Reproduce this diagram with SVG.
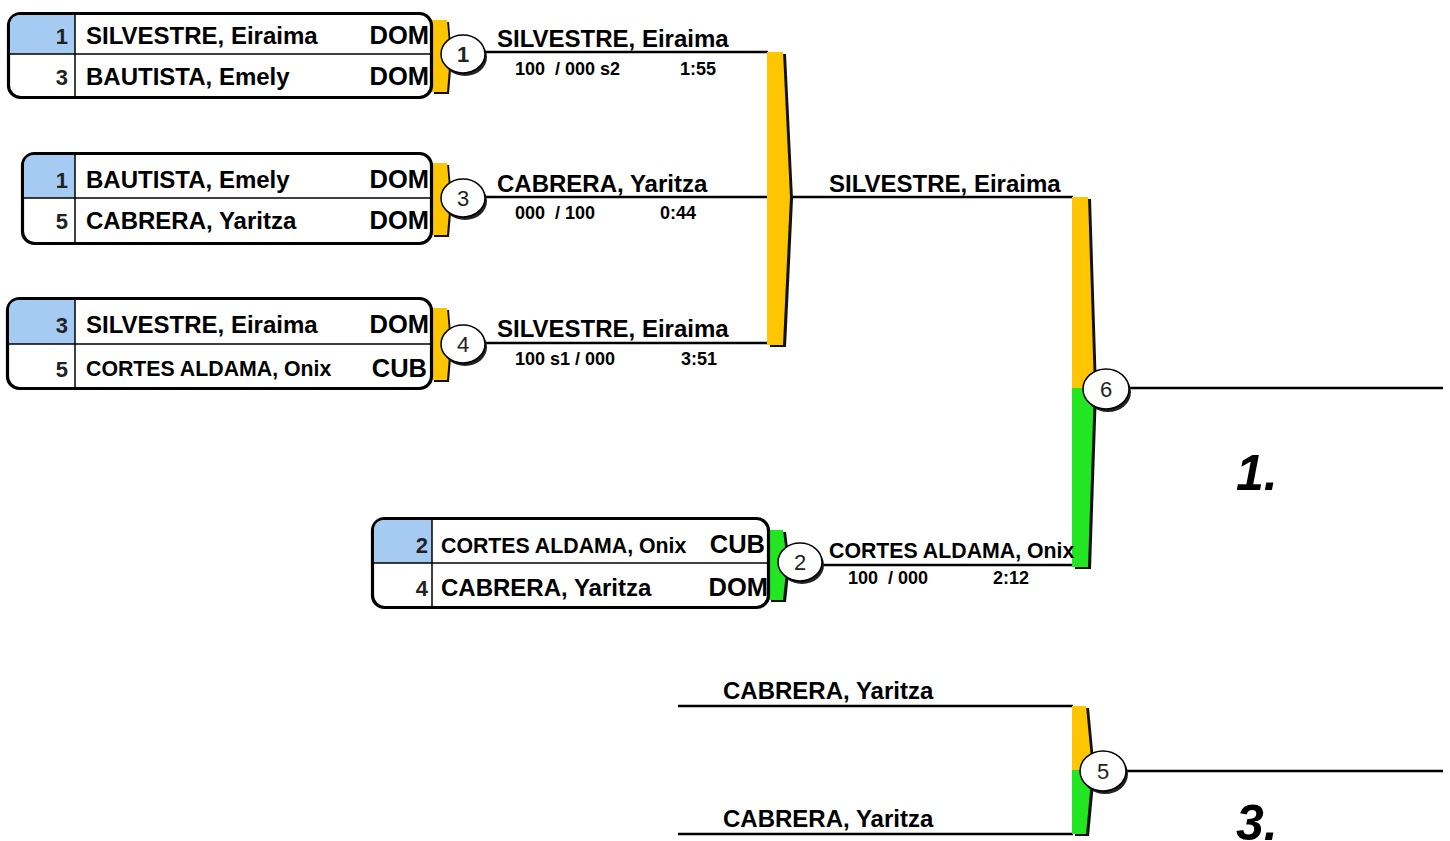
<svg xmlns="http://www.w3.org/2000/svg" width="1450" height="841" viewBox="0 0 1450 841">
<style>
.box{fill:#fff;stroke:#000;stroke-width:3.2}
.blue{fill:#a5cbf2}
.div{stroke:#000;stroke-width:1.5;fill:none}
.nm{font-family:"Liberation Sans",Arial,sans-serif;font-weight:bold;font-size:24px;fill:#000}
.nms{font-family:"Liberation Sans",Arial,sans-serif;font-weight:bold;font-size:21.3px;fill:#000}
.ct{font-family:"Liberation Sans",Arial,sans-serif;font-weight:bold;font-size:25.5px;fill:#000;text-anchor:end}
.sd{font-family:"Liberation Sans",Arial,sans-serif;font-weight:bold;font-size:22px;fill:#222;text-anchor:end}
.sc{font-family:"Liberation Sans",Arial,sans-serif;font-weight:bold;font-size:18px;fill:#000}
.cn{font-family:"Liberation Sans",Arial,sans-serif;font-size:22px;fill:#222;text-anchor:middle}
.rk{font-family:"Liberation Sans",Arial,sans-serif;font-weight:bold;font-style:italic;font-size:50px;fill:#000}
.ln{stroke:#000;stroke-width:2.5;fill:none}
.y{fill:#ffc600}
.g{fill:#22e622}
.sh{fill:#111}
.cw{fill:#fff;stroke:#000;stroke-width:1.5}
.cs{fill:#222}
</style>

<g id="connectors">
  <line class="ln" x1="485" y1="52" x2="768" y2="52"/>
  <line class="ln" x1="485" y1="197" x2="768" y2="197"/>
  <line class="ln" x1="485" y1="343" x2="768" y2="343"/>
  <line class="ln" x1="788" y1="197" x2="1073" y2="197"/>
  <line class="ln" x1="822" y1="565" x2="1073" y2="565"/>
  <line class="ln" x1="1128" y1="388" x2="1443" y2="388"/>
  <line class="ln" x1="678" y1="706" x2="1073" y2="706"/>
  <line class="ln" x1="678" y1="834" x2="1073" y2="834"/>
  <line class="ln" x1="1125" y1="771" x2="1443" y2="771"/>
  <polygon class="sh" points="770,54 786,54 793,199 786,347 770,347"/>
  <polygon class="y" points="767,52 783,52 790,197 783,345 767,345"/>
  <polygon class="sh" points="1075,199 1091,199 1097,390 1091,569 1075,569"/>
  <polygon class="y" points="1072,197 1088,197 1094,388 1072,388"/>
  <polygon class="g" points="1072,388 1094,388 1088,567 1072,567"/>
  <polygon class="sh" points="1075,708 1089,708 1095,772 1089,836 1075,836"/>
  <polygon class="y" points="1072,706 1086,706 1092,770 1072,770"/>
  <polygon class="g" points="1072,770 1092,770 1086,834 1072,834"/>
</g>

<g id="pool1">
  <polygon class="sh" points="434,22 449,22 452,58 449,94 434,94"/>
  <polygon class="y" points="432,20 447,20 450,56 447,92 432,92"/>
  <rect class="box" x="8.5" y="13.5" width="423" height="84" rx="12"/>
  <path class="blue" d="M75,15 L21,15 Q10,15 10,26 L10,54 L75,54 Z"/>
  <line class="div" x1="9" y1="54" x2="431" y2="54"/>
  <line class="div" x1="75" y1="14" x2="75" y2="97"/>
  <text class="sd" x="68" y="44">1</text>
  <text class="nm" x="86" y="44">SILVESTRE, Eiraima</text>
  <text class="ct" x="429" y="44">DOM</text>
  <text class="sd" x="68" y="85">3</text>
  <text class="nm" x="86" y="85">BAUTISTA, Emely</text>
  <text class="ct" x="429" y="85">DOM</text>
</g>

<g id="pool2">
  <polygon class="sh" points="434,165 449,165 452,201 449,237 434,237"/>
  <polygon class="y" points="432,163 447,163 450,199 447,235 432,235"/>
  <rect class="box" x="22.5" y="153.5" width="409" height="90" rx="12"/>
  <path class="blue" d="M75,155 L35,155 Q24,155 24,166 L24,198 L75,198 Z"/>
  <line class="div" x1="23" y1="198" x2="431" y2="198"/>
  <line class="div" x1="75" y1="154" x2="75" y2="243"/>
  <text class="sd" x="68" y="188">1</text>
  <text class="nm" x="86" y="188">BAUTISTA, Emely</text>
  <text class="ct" x="429" y="188">DOM</text>
  <text class="sd" x="68" y="229">5</text>
  <text class="nm" x="86" y="229">CABRERA, Yaritza</text>
  <text class="ct" x="429" y="229">DOM</text>
</g>

<g id="pool3">
  <polygon class="sh" points="434,310 449,310 452,346 449,382 434,382"/>
  <polygon class="y" points="432,308 447,308 450,344 447,380 432,380"/>
  <rect class="box" x="7.5" y="298.5" width="424" height="90" rx="12"/>
  <path class="blue" d="M75,300 L20,300 Q9,300 9,311 L9,344 L75,344 Z"/>
  <line class="div" x1="8" y1="344" x2="431" y2="344"/>
  <line class="div" x1="75" y1="299" x2="75" y2="388"/>
  <text class="sd" x="68" y="333">3</text>
  <text class="nm" x="86" y="333">SILVESTRE, Eiraima</text>
  <text class="ct" x="429" y="333">DOM</text>
  <text class="sd" x="68" y="377">5</text>
  <text class="nms" x="86" y="376">CORTES ALDAMA, Onix</text>
  <text class="ct" x="427" y="377">CUB</text>
</g>

<g id="pool4">
  <polygon class="sh" points="771,532 786,532 790,564 786,602 771,602"/>
  <polygon class="g" points="768,530 783,530 787,562 783,600 768,600"/>
  <rect class="box" x="372.5" y="518.5" width="396" height="89" rx="12"/>
  <path class="blue" d="M432,520 L385,520 Q374,520 374,531 L374,563 L432,563 Z"/>
  <line class="div" x1="373" y1="563" x2="768" y2="563"/>
  <line class="div" x1="432" y1="519" x2="432" y2="607"/>
  <text class="sd" x="428" y="553">2</text>
  <text class="nms" x="441" y="553">CORTES ALDAMA, Onix</text>
  <text class="ct" x="765" y="553">CUB</text>
  <text class="sd" x="428" y="596">4</text>
  <text class="nm" x="441" y="596">CABRERA, Yaritza</text>
  <text class="ct" x="768" y="596">DOM</text>
</g>

<g id="match1">
  <ellipse class="cs" cx="465" cy="57" rx="22" ry="19"/>
  <ellipse class="cw" cx="463" cy="54" rx="22" ry="19"/>
  <text class="cn" x="463" y="62" font-weight="bold" fill="#112">1</text>
  <text class="nm" x="497" y="47">SILVESTRE, Eiraima</text>
  <text class="sc" x="515" y="75" xml:space="preserve">100  / 000 s2</text>
  <text class="sc" x="680" y="75">1:55</text>
</g>

<g id="match3">
  <ellipse class="cs" cx="465" cy="201" rx="22" ry="19"/>
  <ellipse class="cw" cx="463" cy="198" rx="22" ry="19"/>
  <text class="cn" x="463" y="206">3</text>
  <text class="nm" x="497" y="192">CABRERA, Yaritza</text>
  <text class="sc" x="515" y="219" xml:space="preserve">000  / 100</text>
  <text class="sc" x="660" y="219">0:44</text>
</g>

<g id="match4">
  <ellipse class="cs" cx="465" cy="347" rx="22" ry="19"/>
  <ellipse class="cw" cx="463" cy="344" rx="22" ry="19"/>
  <text class="cn" x="463" y="352">4</text>
  <text class="nm" x="497" y="337">SILVESTRE, Eiraima</text>
  <text class="sc" x="515" y="365">100 s1 / 000</text>
  <text class="sc" x="681" y="365">3:51</text>
</g>

<g id="winnerPool">
  <text class="nm" x="829" y="192">SILVESTRE, Eiraima</text>
</g>

<g id="match2">
  <ellipse class="cs" cx="802" cy="565" rx="22" ry="19"/>
  <ellipse class="cw" cx="800" cy="562" rx="22" ry="19"/>
  <text class="cn" x="800" y="570">2</text>
  <text class="nms" x="829" y="558">CORTES ALDAMA, Onix</text>
  <text class="sc" x="848" y="584" xml:space="preserve">100  / 000</text>
  <text class="sc" x="993" y="584">2:12</text>
</g>

<g id="match6">
  <ellipse class="cs" cx="1108" cy="392" rx="23" ry="20"/>
  <ellipse class="cw" cx="1106" cy="389" rx="23" ry="20"/>
  <text class="cn" x="1106" y="397">6</text>
  <text class="rk" x="1236" y="490">1.</text>
</g>

<g id="match5">
  <ellipse class="cs" cx="1105" cy="774" rx="23" ry="20"/>
  <ellipse class="cw" cx="1103" cy="771" rx="23" ry="20"/>
  <text class="cn" x="1103" y="779">5</text>
  <text class="nm" x="723" y="699">CABRERA, Yaritza</text>
  <text class="nm" x="723" y="827">CABRERA, Yaritza</text>
  <text class="rk" x="1236" y="840">3.</text>
</g>
</svg>
